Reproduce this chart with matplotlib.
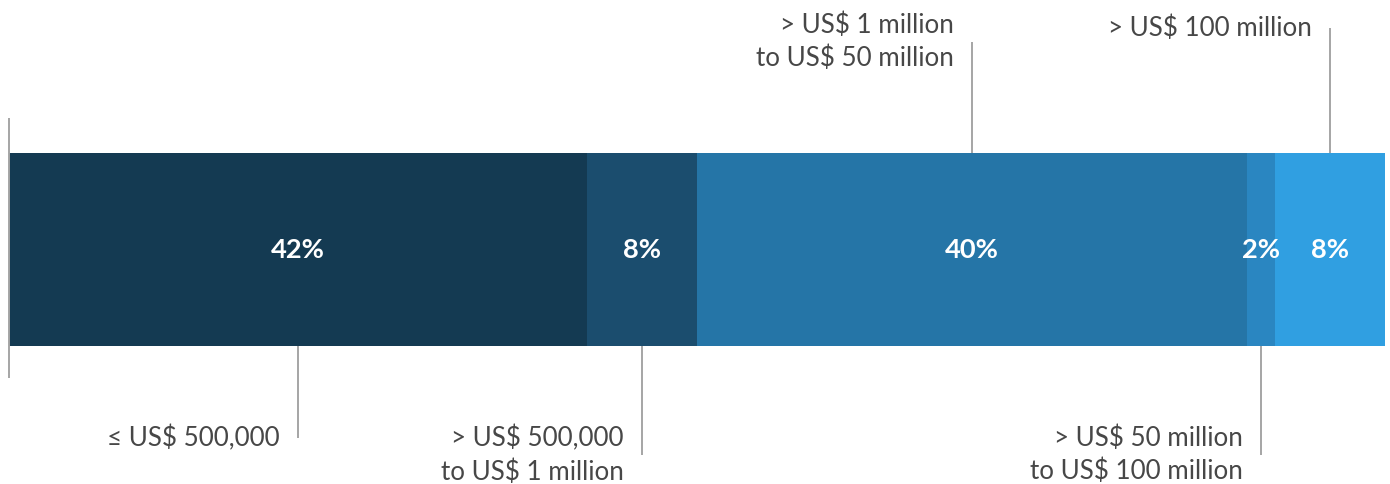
import matplotlib
matplotlib.use("Agg")
import matplotlib.pyplot as plt

categories = ["≤ US$ 500,000", "> US$ 500,000\nto US$ 1 million", "> US$ 1 million\nto US$ 50 million",
              "> US$ 50 million\nto US$ 100 million", "> US$ 100 million"]
values = [42, 8, 40, 2, 8]
value_labels = ["42%", "8%", "40%", "2%", "8%"]
colors = ["#143A52", "#1B4D6E", "#2575A7", "#2A86C1", "#309FE1"]
label_side = ["below", "below", "above", "below", "above"]
leader_px = [92, 109, 111, 109, 125]

W, H = 1390, 484
fig = plt.figure(figsize=(W / 100, H / 100), dpi=100)
bar_top, bar_bot = 153, 346
bar_h = bar_bot - bar_top
x0, x1 = 9, 1385
ax = fig.add_axes([x0 / W, 0, (x1 - x0) / W, 1])
ax.set_xlim(0, 100)
ax.set_ylim(-0.5 - (H - bar_bot) / bar_h, 0.5 + bar_top / bar_h)
ax.axis("off")

plt.rcParams["font.family"] = ["Lato", "DejaVu Sans"]

left = 0
for v, c, lab, cat, side, lp in zip(values, colors, value_labels, categories, label_side, leader_px):
    ax.barh(0, v, left=left, height=1, color=c, edgecolor="none")
    cx = left + v / 2
    ax.text(cx, 0, lab, ha="center", va="center", color="white", fontsize=19.6,
            fontweight="bold", family=["Lato", "DejaVu Sans"])
    L = lp / bar_h
    if side == "below":
        y_start, y_end = -0.5, -0.5 - L
    else:
        y_start, y_end = 0.5, 0.5 + L
    ax.plot([cx, cx], [y_start, y_end], color="#A5A5A5", lw=1.4, solid_capstyle="butt")
    ax.annotate(cat, xy=(cx, y_end), xytext=(-13, 0), textcoords="offset points",
                ha="right", va="center", fontsize=18.7, color="#474747",
                linespacing=1.36, multialignment="right", family=["Lato", "DejaVu Sans"])
    left += v

ax.plot([0, 0], [0.5 + 35 / bar_h, -0.5 - 32 / bar_h], color="#A5A5A5", lw=1.4,
        solid_capstyle="butt", clip_on=False)

fig.savefig("out.png", dpi=100)
